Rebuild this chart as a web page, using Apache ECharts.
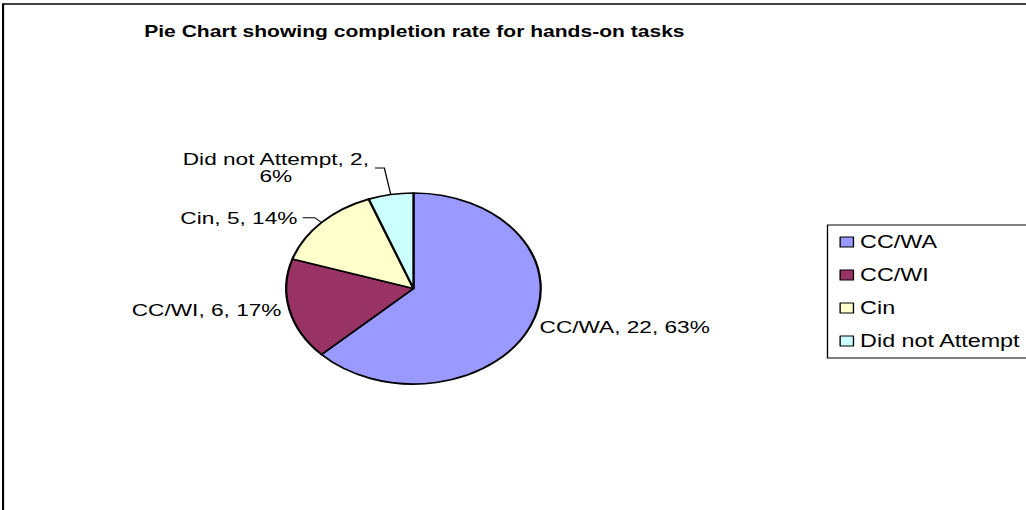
<!DOCTYPE html>
<html><head><meta charset="utf-8">
<script src="https://cdn.jsdelivr.net/npm/echarts@6/dist/echarts.min.js"></script>
<style>
html,body{margin:0;padding:0;width:1026px;height:510px;overflow:hidden;background:#fff;}
#wrap{position:absolute;left:0;top:0;width:1026px;height:510px;overflow:hidden;}
#chart{position:absolute;left:0;top:0;width:770px;height:510px;transform:scaleX(1.3325);transform-origin:0 0;}
</style></head><body>
<div id="wrap"><div id="chart"></div></div>
<script>
// ---- data ----
const categories = ['CC/WA', 'CC/WI', 'Cin', 'Did not Attempt'];
const values = [22, 6, 5, 2];
const colors = ['#9999FF', '#993366', '#FFFFCC', '#CCFFFF'];
const titleText = 'Pie Chart showing completion rate for hands-on tasks';

// ---- per-slice label styling (kept separate from data) ----
const labelLines = [
  { show: false, length: 3, length2: 0 },
  { show: false, length: 2, length2: 0 },
  { show: true, length: 7, length2: 9 },
  { show: true, length: 27, length2: 7 }
];
const labelFormats = [
  '{m|{b}, {c}, {d}%}',
  '{m|{b}, {c}, {d}%}',
  '{m|{b}, {c}, {d}%}',
  '{m|{b}, {c},}\n{m|{d}%}'
];

const FONT = 'Arial, "Liberation Sans", sans-serif';

const pieData = categories.map((name, i) => ({
  name: name,
  value: values[i],
  itemStyle: { color: colors[i] },
  labelLine: labelLines[i],
  label: { formatter: labelFormats[i] }
}));

const chart = echarts.init(document.getElementById('chart'), null, { renderer: 'svg' });
chart.setOption({
  animation: false,
  backgroundColor: '#ffffff',
  graphic: [{
    type: 'polyline',
    shape: { points: [[2.3, 600], [2.3, 4], [900, 4]] },
    style: { stroke: '#000', lineWidth: 1.6, fill: null },
    silent: true
  }],
  title: {
    text: titleText,
    left: 306,
    top: 18,
    textAlign: 'center',
    textStyle: { fontFamily: FONT, fontSize: 15.8, fontWeight: 'bold', color: '#000' }
  },
  legend: {
    orient: 'vertical',
    left: 621,
    top: 225,
    padding: [8, 60, 8, 9],
    borderColor: '#000',
    borderWidth: 1,
    icon: 'rect',
    itemWidth: 10,
    itemHeight: 10,
    itemGap: 15,
    itemStyle: { borderColor: '#000', borderWidth: 1 },
    textStyle: { fontFamily: FONT, fontSize: 17.5, color: '#000' },
    data: categories
  },
  series: [{
    type: 'pie',
    center: [310.3, 288.5],
    radius: 95.5,
    startAngle: 90,
    clockwise: true,
    avoidLabelOverlap: false,
    percentPrecision: 0,
    itemStyle: { borderColor: '#000', borderWidth: 1.7 },
    emphasis: { disabled: true },
    label: {
      show: true,
      position: 'outside',
      fontFamily: FONT,
      fontSize: 17,
      color: '#000',
      distanceToLabelLine: 4,
      rich: {
        m: { fontFamily: FONT, fontSize: 17, color: '#000', align: 'center' }
      }
    },
    labelLine: { lineStyle: { color: '#000', width: 1 } },
    data: pieData
  }]
});
</script>
</body></html>
